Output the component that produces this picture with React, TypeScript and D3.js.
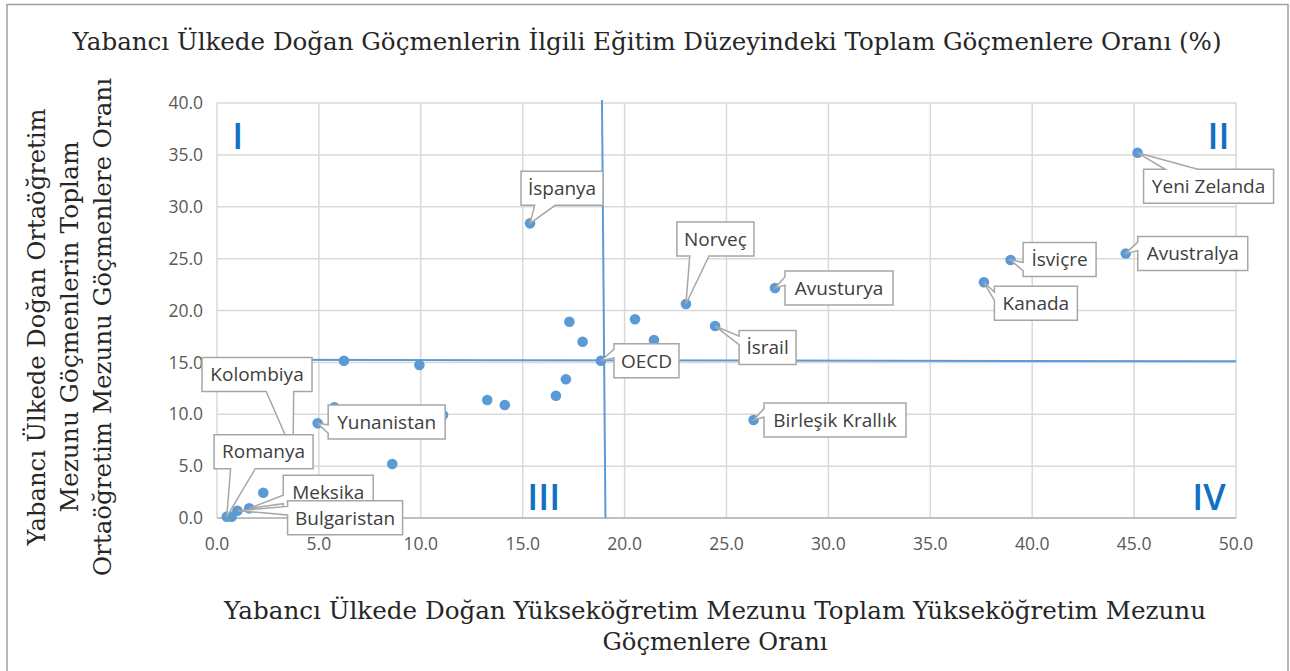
import React from 'react';
import * as d3 from 'd3';

const W = 1290;
const H = 671;

// ülkeler (boş ad = etiketsiz nokta)
const countries = [
  'Yeni Zelanda', 'Avustralya', 'İsviçre', 'Kanada', 'Avusturya', 'Norveç', 'İsrail',
  'Birleşik Krallık', 'OECD', 'İspanya', '', '', '', '', '', '', '', '', '', '', '',
  'Yunanistan', '', '', '', 'Meksika', 'Bulgaristan', '', 'Romanya', 'Kolombiya',
];
// yükseköğretim mezunu göçmen oranı (x)
const tertiary = [
  45.17, 44.59, 38.94, 37.63, 27.38, 23.01, 24.44,
  26.33, 18.84, 15.36, 17.29, 17.94, 20.51, 21.44, 17.12, 16.63, 13.26, 14.12, 9.93, 6.23, 5.76,
  4.94, 11.09, 8.6, 2.27, 1.58, 1.0, 0.72, 0.48, 3.73,
];
// ortaöğretim mezunu göçmen oranı (y)
const secondary = [
  35.2, 25.5, 24.87, 22.72, 22.17, 20.63, 18.5,
  9.45, 15.16, 28.4, 18.92, 16.99, 19.15, 17.16, 13.37, 11.79, 11.37, 10.89, 14.75, 15.16, 10.67,
  9.13, 9.93, 5.2, 2.44, 0.93, 0.7, 0.13, 0.13, 6.27,
];

const xTicks = [0, 5, 10, 15, 20, 25, 30, 35, 40, 45, 50];
const yTicks = [0, 5, 10, 15, 20, 25, 30, 35, 40];

// OECD ortalaması çizgileri (uçlar veri biriminde)
const hLine = [[0, 15.25], [50, 15.1]];
const vLine = [[18.89, 40.29], [19.06, 0]];

const quadrants = ['I', 'II', 'III', 'IV'];
const quadrantPos = [[0.75, 35.57], [48.6, 35.6], [15.22, 0.75], [47.85, 0.75]];

// etiket kutusu yerleşimi: kutu merkezinin noktadan uzaklığı (px) ve genişlik
const labelLayout: Record<string, [number, number, number]> = {
  'Kolombiya': [-36, -78.5, 110],
  'Romanya': [36.8, -65, 99],
  'Meksika': [79, -16, 90],
  'Bulgaristan': [107.7, 7, 115],
  'Yunanistan': [69, -1.3, 117],
  'İspanya': [32, -35, 82],
  'Norveç': [29.5, -65, 77],
  'OECD': [45.5, 0, 65],
  'İsrail': [52.5, 21.5, 57],
  'Avusturya': [64, 0, 108],
  'Birleşik Krallık': [81.4, 0, 142],
  'Kanada': [52, 21, 83],
  'İsviçre': [49, -0.5, 73],
  'Avustralya': [67, 0, 110],
  'Yeni Zelanda': [71, 33.5, 130],
};

const title = 'Yabancı Ülkede Doğan Göçmenlerin İlgili Eğitim Düzeyindeki Toplam Göçmenlere Oranı (%)';
const yTitle = ['Yabancı Ülkede Doğan Ortaöğretim', 'Mezunu Göçmenlerin Toplam', 'Ortaöğretim Mezunu Göçmenlere Oranı'];
const yTitleLen = [437, 371, 498];
const xTitle = ['Yabancı Ülkede Doğan Yükseköğretim Mezunu Toplam Yükseköğretim Mezunu', 'Göçmenlere Oranı'];
const xTitleLen = [982, 225];

const serif = '"DejaVu Serif", serif';
const sans = '"Open Sans", sans-serif';

// Excel wedgeRectCallout şekli
function calloutPath(l: number, t: number, w: number, h: number, px: number, py: number) {
  const r = l + w, b = t + h, hc = l + w / 2, vc = t + h / 2;
  const dx = px - hc, dy = py - vc;
  const dz = Math.abs(dy) - Math.abs(dx * h / w);
  const x1 = l + w * (dx > 0 ? 7 : 2) / 12, x2 = l + w * (dx > 0 ? 10 : 5) / 12;
  const y1 = t + h * (dy > 0 ? 7 : 2) / 12, y2 = t + h * (dy > 0 ? 10 : 5) / 12;
  const p = d3.path();
  p.moveTo(l, t);
  if (dz > 0 && dy < 0) { p.lineTo(x1, t); p.lineTo(px, py); p.lineTo(x2, t); }
  p.lineTo(r, t);
  if (dz <= 0 && dx > 0) { p.lineTo(r, y1); p.lineTo(px, py); p.lineTo(r, y2); }
  p.lineTo(r, b);
  if (dz > 0 && dy > 0) { p.lineTo(x2, b); p.lineTo(px, py); p.lineTo(x1, b); }
  p.lineTo(l, b);
  if (dz <= 0 && dx < 0) { p.lineTo(l, y2); p.lineTo(px, py); p.lineTo(l, y1); }
  p.closePath();
  return p.toString();
}

export default function App() {
  const x = d3.scaleLinear().domain([0, 50]).range([217, 1236]);
  const y = d3.scaleLinear().domain([0, 40]).range([518, 103]);
  const fmt = d3.format('.1f');
  const line = d3.line<number[]>().x(d => x(d[0])).y(d => y(d[1]));

  const points = countries.map((c, i) => ({ name: c, px: x(tertiary[i]), py: y(secondary[i]) }));
  const labelled = Object.keys(labelLayout).map(name => points.find(p => p.name === name)!);
  const boxH = 34;

  return (
    <svg width={W} height={H} style={{ position: 'absolute', left: 0, top: 0, background: '#fff' }}>
      <rect x={7} y={4.5} width={1281} height={700} fill="none" stroke="#a0a0a0" strokeWidth={1.5} />

      <text x={647} y={50} textAnchor="middle" fontFamily={serif} fontSize={24} fill="#262626"
        textLength={1149} lengthAdjust="spacingAndGlyphs">{title}</text>

      {/* ızgara */}
      {xTicks.map(t => (
        <line key={'gx' + t} x1={x(t)} x2={x(t)} y1={y(40)} y2={y(0)} stroke="#d9d9d9" strokeWidth={1.5} />
      ))}
      {yTicks.map(t => (
        <line key={'gy' + t} x1={x(0)} x2={x(50)} y1={y(t)} y2={y(t)} stroke={t === 0 ? '#bfbfbf' : '#d9d9d9'} strokeWidth={t === 0 ? 2 : 1.5} />
      ))}

      {xTicks.map(t => (
        <text key={'tx' + t} x={x(t)} y={544} dy="0.35em" textAnchor="middle" fontFamily={sans} fontSize={17.5} fill="#595959">{fmt(t)}</text>
      ))}
      {yTicks.map(t => (
        <text key={'ty' + t} x={203} y={y(t)} dy="0.35em" textAnchor="end" fontFamily={sans} fontSize={17.5} fill="#595959">{fmt(t)}</text>
      ))}

      <path d={line(hLine)!} stroke="#5b9bd5" strokeWidth={2} fill="none" />
      <path d={line(vLine)!} stroke="#5b9bd5" strokeWidth={2} fill="none" />

      {points.map((p, i) => (
        <circle key={'p' + i} cx={p.px} cy={p.py} r={5.3} fill="#5b9bd5" />
      ))}

      {labelled.map(p => {
        const [dx, dy, w] = labelLayout[p.name];
        const cx = p.px + dx, cy = p.py + dy;
        return (
          <g key={'l' + p.name}>
            <path d={calloutPath(cx - w / 2, cy - boxH / 2, w, boxH, p.px, p.py)} fill="#fff" stroke="#a6a6a6" strokeWidth={1.5} />
            <text x={cx} y={cy} dy="0.36em" textAnchor="middle" fontFamily={sans} fontSize={19} fill="#404040">{p.name}</text>
          </g>
        );
      })}

      {quadrants.map((q, i) => (
        <text key={'q' + q} x={x(quadrantPos[i][0])} y={y(quadrantPos[i][1])} textAnchor="start"
          fontFamily={sans} fontSize={36} fontWeight={600} fill="#1170c4">{q}</text>
      ))}

      {yTitle.map((t, i) => (
        <text key={'yt' + i} transform={`translate(${45 + i * 33},327) rotate(-90)`} textAnchor="middle"
          fontFamily={serif} fontSize={24} fill="#262626" textLength={yTitleLen[i]} lengthAdjust="spacingAndGlyphs">{t}</text>
      ))}
      {xTitle.map((t, i) => (
        <text key={'xt' + i} x={715} y={619 + i * 31} textAnchor="middle" fontFamily={serif} fontSize={24} fill="#262626"
          textLength={xTitleLen[i]} lengthAdjust="spacingAndGlyphs">{t}</text>
      ))}
    </svg>
  );
}
